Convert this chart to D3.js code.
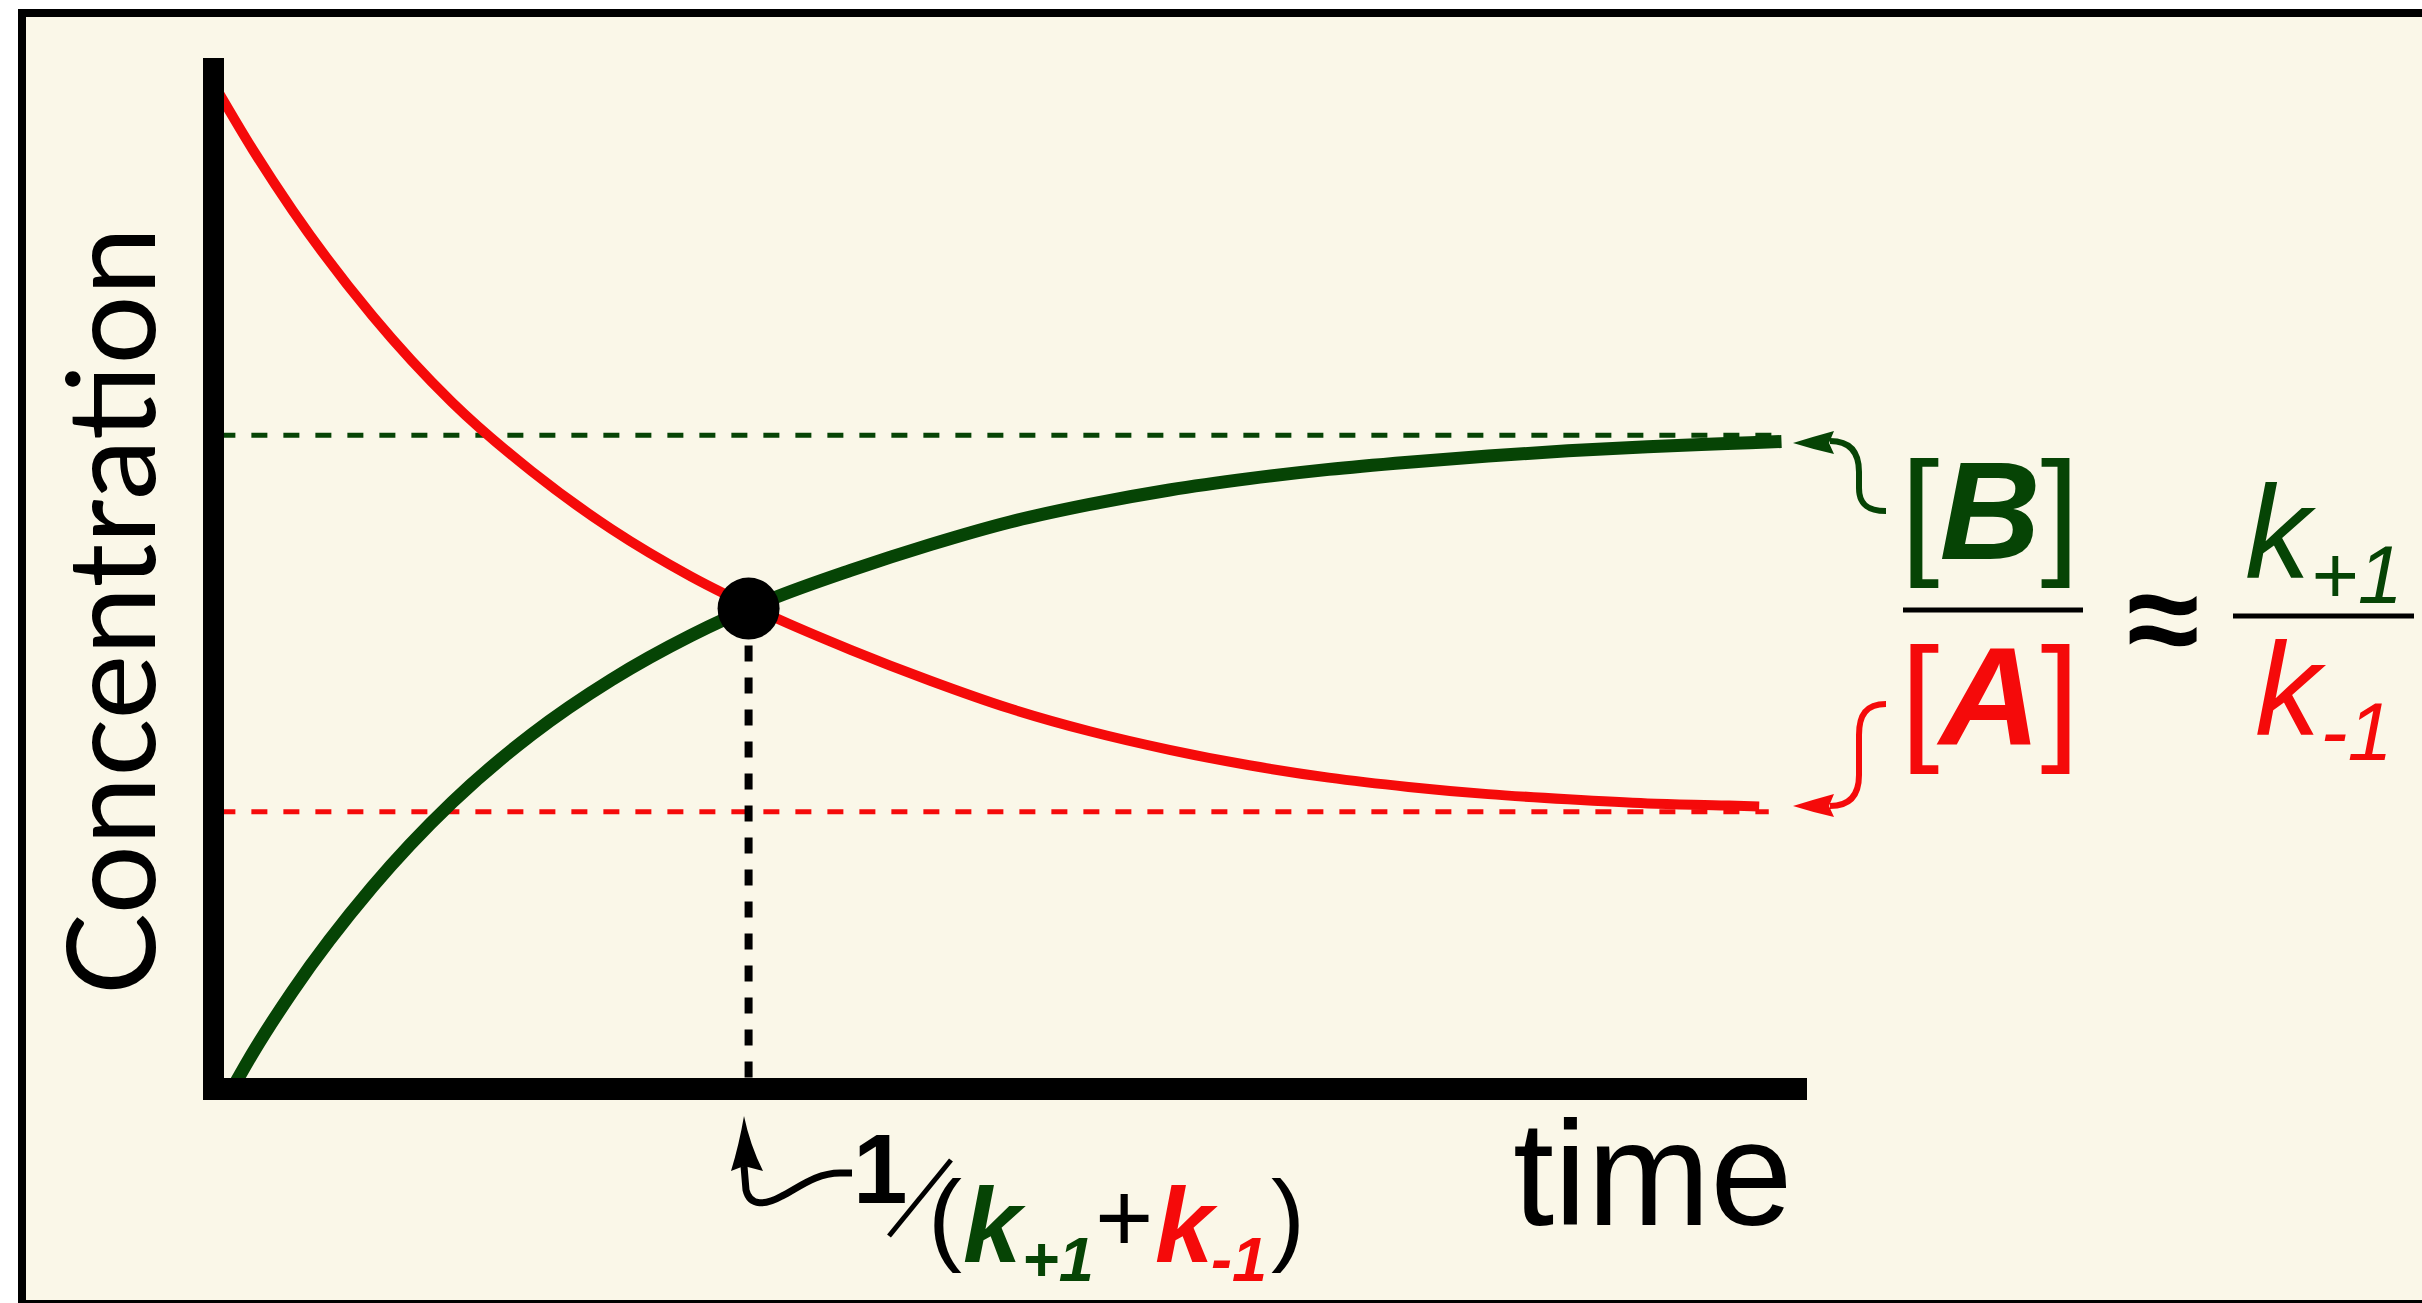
<!DOCTYPE html>
<html>
<head>
<meta charset="utf-8">
<script src="https://cdn.jsdelivr.net/npm/d3@7"></script>
<style>
  html, body { margin: 0; padding: 0; background: #fff; }
  svg { display: block; }
</style>
</head>
<body>
<svg id="chart" width="2422" height="1303"></svg>
<script>
// time in arbitrary units (0..10), concentration as a fraction (0..1)
const redTimes = [0, 0.25, 0.5, 1, 1.5, 2, 2.5, 3, 3.5, 4, 4.5, 5, 5.5, 6, 6.5, 7, 7.5, 8, 8.5, 9, 9.5, 9.7];
const redConc = [0.976, 0.911, 0.852, 0.750, 0.666, 0.599, 0.543, 0.497, 0.459, 0.426, 0.396, 0.369, 0.347, 0.329, 0.314, 0.302, 0.293, 0.286, 0.281, 0.277, 0.275, 0.274];

const greenTimes = [0.12, 0.25, 0.5, 1, 1.5, 2, 2.5, 3, 3.5, 4, 4.5, 5, 5.5, 6, 6.5, 7, 7.5, 8, 8.5, 9, 9.5, 9.84];
const greenConc = [0, 0.035, 0.095, 0.196, 0.278, 0.344, 0.397, 0.440, 0.475, 0.503, 0.528, 0.550, 0.567, 0.581, 0.592, 0.601, 0.608, 0.614, 0.619, 0.623, 0.626, 0.628];

// equilibrium levels [B], [A] and where their dashed guides stop
const eqLevels = [0.634, 0.269];
const eqEnds = [9.78, 9.76];

const crossTime = 3.36;
const crossConc = 0.466;

const GREEN = '#064405';
const RED = '#f50a0a';
const SANS = '"Liberation Sans", Arial, sans-serif';

const svg = d3.select('#chart');

svg.append('rect')
    .attr('x', 22)
    .attr('y', 13)
    .attr('width', 2440)
    .attr('height', 1291)
    .attr('fill', '#faf7e8')
    .attr('stroke', '#000')
    .attr('stroke-width', 8);

const x = d3.scaleLinear().domain([0, 10]).range([213, 1807]);
const y = d3.scaleLinear().domain([0, 1]).range([1089, 58]);

// dashed equilibrium guides
eqLevels.forEach((level, i) => {
    svg.append('line')
        .attr('x1', x(0.04))
        .attr('x2', x(eqEnds[i]))
        .attr('y1', y(level))
        .attr('y2', y(level))
        .attr('stroke', i === 0 ? GREEN : RED)
        .attr('stroke-width', 5)
        .attr('stroke-dasharray', '16 16');
});

const line = d3.line()
    .x((d) => x(d[0]))
    .y((d) => y(d[1]))
    .curve(d3.curveMonotoneX);

svg.append('path')
    .attr('d', line(redTimes.map((t, i) => [t, redConc[i]])))
    .attr('fill', 'none')
    .attr('stroke', RED)
    .attr('stroke-width', 10);

svg.append('path')
    .attr('d', line(greenTimes.map((t, i) => [t, greenConc[i]])))
    .attr('fill', 'none')
    .attr('stroke', GREEN)
    .attr('stroke-width', 13);

// drop line from the crossing point
svg.append('line')
    .attr('x1', x(crossTime))
    .attr('x2', x(crossTime))
    .attr('y1', y(crossConc))
    .attr('y2', y(0) - 11)
    .attr('stroke', '#000')
    .attr('stroke-width', 8)
    .attr('stroke-dasharray', '16 16')
    .attr('stroke-dashoffset', -5);

svg.append('circle')
    .attr('cx', x(crossTime))
    .attr('cy', y(crossConc))
    .attr('r', 31)
    .attr('fill', '#000');

// axes
svg.append('line')
    .attr('x1', x(0) + 0.5)
    .attr('x2', x(0) + 0.5)
    .attr('y1', y(1))
    .attr('y2', y(0) + 11)
    .attr('stroke', '#000')
    .attr('stroke-width', 21);

svg.append('line')
    .attr('x1', x(0) - 10)
    .attr('x2', x(10))
    .attr('y1', y(0))
    .attr('y2', y(0))
    .attr('stroke', '#000')
    .attr('stroke-width', 22);

// axis titles
svg.append('text')
    .attr('x', 1513)
    .attr('y', 1225)
    .attr('font-family', SANS)
    .attr('font-size', 148)
    .attr('fill', '#000')
    .text('time');

const yTitle = svg.append('text')
    .attr('transform', 'translate(155,611) rotate(-90)')
    .attr('text-anchor', 'middle')
    .attr('font-family', 'Lato, "Open Sans", sans-serif')
    .attr('font-size', 100)
    .attr('fill', '#000')
    .text('Concentration');
const titleLen = yTitle.node().getComputedTextLength();
yTitle.attr('font-size', 100 * 768 / titleLen);

// bottom label: 1/(k+1 + k-1)
function piece(str, px, py, size, color, weight, style) {
    return svg.append('text')
        .attr('x', px)
        .attr('y', py)
        .attr('font-family', SANS)
        .attr('font-size', size)
        .attr('font-weight', weight || 'normal')
        .attr('font-style', style || 'normal')
        .attr('fill', color)
        .text(str);
}

piece('1', 853, 1203, 98, '#000', 'bold');
svg.append('line')
    .attr('x1', 889).attr('y1', 1236)
    .attr('x2', 951).attr('y2', 1160)
    .attr('stroke', '#000')
    .attr('stroke-width', 5);
piece('(', 928, 1252, 102, '#000');
piece('k', 963, 1262, 105, GREEN, 'bold', 'italic');
piece('+1', 1022, 1281, 63, GREEN, 'bold', 'italic');
piece('+', 1095, 1252, 100, '#000');
piece('k', 1155, 1262, 105, RED, 'bold', 'italic');
piece('-1', 1211, 1281, 63, RED, 'bold', 'italic');
piece(')', 1271, 1252, 102, '#000');

svg.append('path')
    .attr('d', 'M852,1173 L840,1173 C815,1173 797,1189 782,1196 C766,1205 750,1207 746,1190 L744,1166')
    .attr('fill', 'none')
    .attr('stroke', '#000')
    .attr('stroke-width', 7);
svg.append('path')
    .attr('d', 'M744,1116 Q739,1145 731,1171 L744,1166 L763,1171 Q750,1145 744,1116 Z')
    .attr('fill', '#000');

// right side: [B]/[A] ≈ k+1/k-1
function bracketed(letter, baseline, color) {
    const t = svg.append('text')
        .attr('x', 1990)
        .attr('y', baseline)
        .attr('text-anchor', 'middle')
        .attr('font-family', SANS)
        .attr('font-size', 140)
        .attr('fill', color);
    t.append('tspan').text('[');
    t.append('tspan').attr('font-weight', 'bold').attr('font-style', 'italic').text(letter);
    t.append('tspan').text(']');
}
bracketed('B', 559, GREEN);
bracketed('A', 745, RED);

svg.append('line')
    .attr('x1', 1903).attr('x2', 2083)
    .attr('y1', 610).attr('y2', 610)
    .attr('stroke', '#000').attr('stroke-width', 5);

svg.append('text')
    .attr('x', 2163)
    .attr('y', 664)
    .attr('text-anchor', 'middle')
    .attr('font-family', SANS)
    .attr('font-weight', 'bold')
    .attr('font-size', 132)
    .attr('fill', '#000')
    .text('≈');

svg.append('line')
    .attr('x1', 2233).attr('x2', 2414)
    .attr('y1', 616).attr('y2', 616)
    .attr('stroke', '#000').attr('stroke-width', 5);

function rateConst(sub, px, py, color) {
    const t = svg.append('text')
        .attr('x', px)
        .attr('y', py)
        .attr('font-family', SANS)
        .attr('font-style', 'italic')
        .attr('font-size', 131)
        .attr('fill', color);
    t.append('tspan').text('k');
    t.append('tspan').attr('font-size', 81).attr('dy', 25).text(sub);
}
rateConst('+1', 2245, 578, GREEN);
rateConst('-1', 2255, 735, RED);

// arrows pointing at the equilibrium levels
svg.append('path')
    .attr('d', 'M1830,441 C1850,441 1859,452 1859,472 L1859,488 C1859,503 1866,511 1886,511')
    .attr('fill', 'none').attr('stroke', GREEN).attr('stroke-width', 6);
svg.append('path')
    .attr('d', 'M1793,443 Q1812,437 1834,431 L1829,443 L1834,454 Q1812,449 1793,443 Z')
    .attr('fill', GREEN);

svg.append('path')
    .attr('d', 'M1830,806 C1850,806 1859,795 1859,775 L1859,735 C1859,715 1866,704 1886,704')
    .attr('fill', 'none').attr('stroke', RED).attr('stroke-width', 6);
svg.append('path')
    .attr('d', 'M1793,806 Q1812,800 1834,794 L1829,806 L1834,817 Q1812,812 1793,806 Z')
    .attr('fill', RED);
</script>
</body>
</html>
